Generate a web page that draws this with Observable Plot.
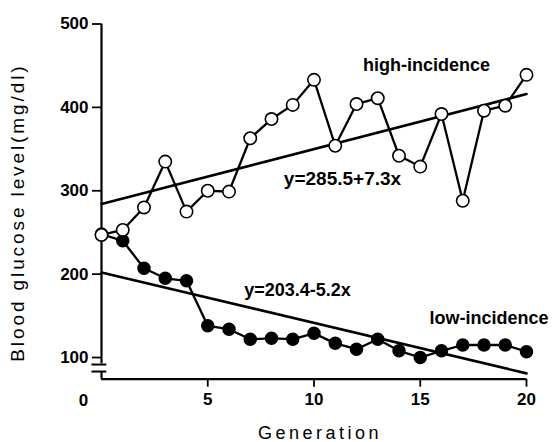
<!DOCTYPE html>
<html>
<head>
<meta charset="utf-8">
<script src="https://cdn.jsdelivr.net/npm/d3@7"></script>
<script src="https://cdn.jsdelivr.net/npm/@observablehq/plot@0.6"></script>
<style>
  html, body { margin: 0; padding: 0; background: #fff; }
</style>
</head>
<body>
<div id="chart"></div>
<script>
const generations = [0,1,2,3,4,5,6,7,8,9,10,11,12,13,14,15,16,17,18,19,20];
const highIncidence = [247,253,280,335,275,300,299,363,386,403,433,354,404,411,342,329,392,288,396,402,439];
const lowIncidence  = [248,240,207,195,192,138,134,122,123,122,129,117,110,122,108,100,108,115,115,115,107];
const highFit = [{g: 0, v: 284}, {g: 20, v: 416}];
const lowFit  = [{g: 0, v: 202}, {g: 20, v: 81}];
const yTicks = [100, 200, 300, 400, 500];
const xTicks = [5, 10, 15, 20];

const high = generations.map((g, i) => ({g, v: highIncidence[i]}));
const low = generations.map((g, i) => ({g, v: lowIncidence[i]}));

const font = "Liberation Sans, Arial, sans-serif";

const chart = Plot.plot({
  width: 552,
  height: 442,
  marginLeft: 101,
  marginRight: 26,
  marginTop: 23.5,
  marginBottom: 63.3,
  x: {domain: [0, 20]},
  y: {domain: [74, 500]},
  style: {fontFamily: font, fontSize: "17px", fontWeight: "bold", color: "#000", background: "#fff"},
  marks: [
    // axes
    Plot.ruleX([0], {y1: 92.5, y2: 500, strokeWidth: 2.2}),
    Plot.ruleX([0], {y1: 74, y2: 82.5, strokeWidth: 2.2}),
    Plot.ruleY([91.6, 83.2], {x1: -0.45, x2: 0.25, strokeWidth: 2}),
    Plot.ruleY([74], {x1: 0, x2: 20, strokeWidth: 2.2}),
    Plot.axisY({ticks: yTicks, tickSize: 9, tickPadding: 4, tickFormat: d => String(d), label: null, strokeWidth: 1.8, fontSize: 17}),
    Plot.axisX({ticks: xTicks, tickSize: 8, tickPadding: 6, label: null, strokeWidth: 1.8, fontSize: 17}),
    Plot.text(["0"], {frameAnchor: "bottom-left", textAnchor: "middle", dx: -18, dy: 27, fontSize: 17}),
    Plot.text(["Generation"], {frameAnchor: "bottom", textAnchor: "middle", dx: 6, dy: 54, fontSize: 18, fontWeight: "normal", lineAnchor: "middle"}),
    Plot.text(["Blood glucose level(mg/dl)"], {frameAnchor: "left", textAnchor: "middle", rotate: -90, dx: -84, dy: 11, fontSize: 19, fontWeight: "normal", lineAnchor: "middle"}),
    // regression lines
    Plot.line(highFit, {x: "g", y: "v", strokeWidth: 2.6}),
    Plot.line(lowFit, {x: "g", y: "v", strokeWidth: 2.6}),
    // series lines
    Plot.line(high, {x: "g", y: "v", strokeWidth: 2.3}),
    Plot.line(low, {x: "g", y: "v", strokeWidth: 2.3}),
    Plot.dot(low, {x: "g", y: "v", r: 6, fill: "#000", stroke: "#000"}),
    Plot.dot(high, {x: "g", y: "v", r: 6.2, fill: "#fff", stroke: "#000", strokeWidth: 1.6}),
    // annotations
    Plot.text([{x: 15.29, y: 450, t: "high-incidence"}], {x: "x", y: "y", text: "t", fontSize: 18}),
    Plot.text([{x: 11.34, y: 314.6, t: "y=285.5+7.3x"}], {x: "x", y: "y", text: "t", fontSize: 19}),
    Plot.text([{x: 9.22, y: 180.3, t: "y=203.4-5.2x"}], {x: "x", y: "y", text: "t", fontSize: 18}),
    Plot.text([{x: 18.24, y: 146.8, t: "low-incidence"}], {x: "x", y: "y", text: "t", fontSize: 18})
  ]
});
d3.select(chart).selectAll("text").each(function () {
  const t = this.textContent;
  if (t === "Generation") this.style.letterSpacing = "3.5px";
  if (t === "Blood glucose level(mg/dl)") this.style.letterSpacing = "2.9px";
});
document.getElementById("chart").appendChild(chart);
</script>
</body>
</html>
